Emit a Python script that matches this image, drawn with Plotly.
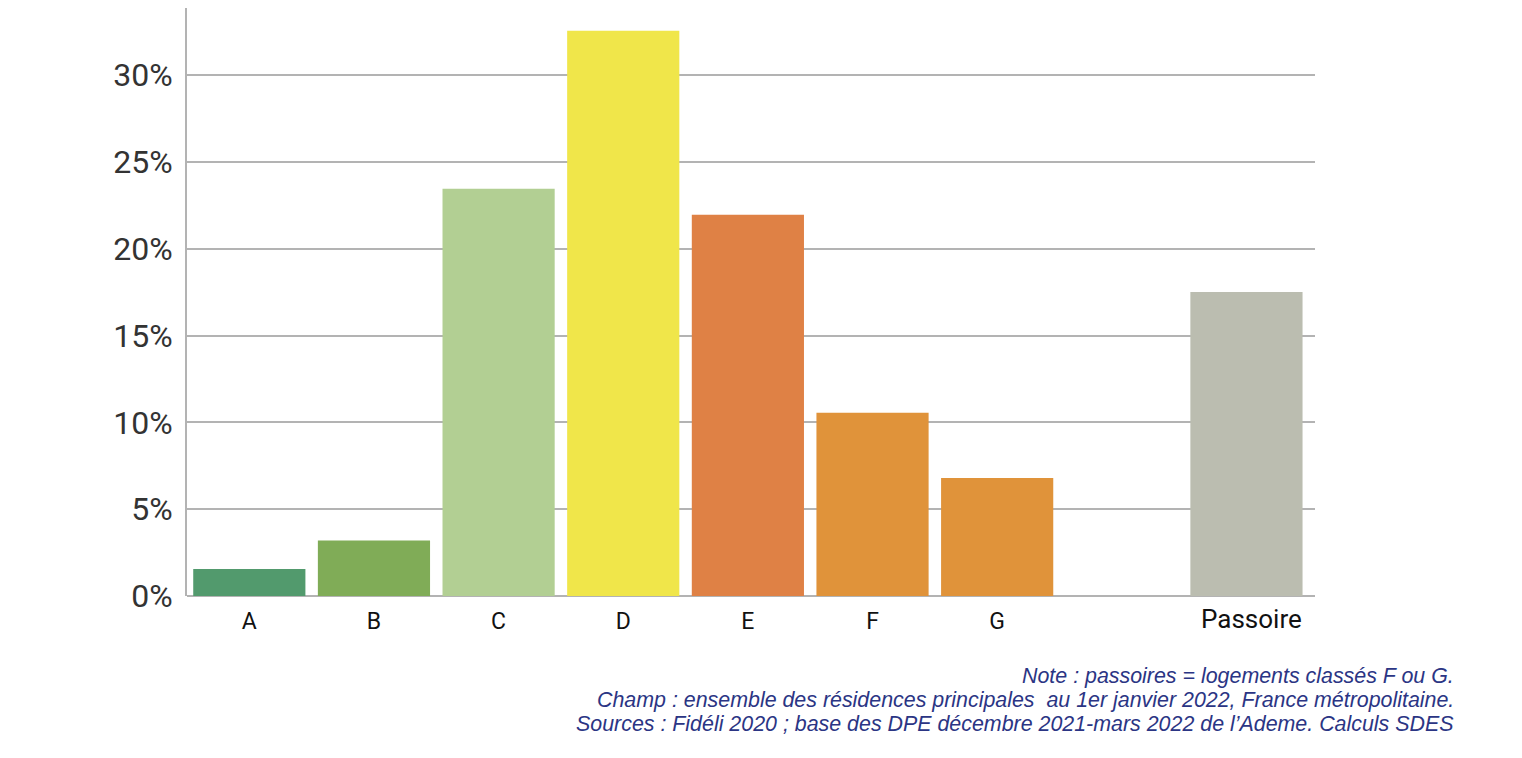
import plotly.graph_objects as go

# Data (share of principal residences by DPE class, %)
classes = ["A", "B", "C", "D", "E", "F", "G", "Passoire"]
shares = [1.55, 3.2, 23.45, 32.55, 21.95, 10.55, 6.8, 17.5]
bar_colors = ["#529a6d", "#80ac57", "#b2cf93", "#f0e64a",
              "#df8145", "#e0933a", "#e0933a", "#bbbdb0"]

# slot order on the axis: a blank slot keeps Passoire apart from G
slots = ["A", "B", "C", "D", "E", "F", "G", " ", "Passoire"]
slot_labels = ["A", "B", "C", "D", "E", "F", "G", "", ""]

y_ticks = [0, 5, 10, 15, 20, 25, 30]
y_labels = ["0%", "5%", "10%", "15%", "20%", "25%", "30%"]

notes = [
    "Note : passoires = logements classés F ou G.",
    "Champ : ensemble des résidences principales  au 1er janvier 2022, France métropolitaine.",
    "Sources : Fidéli 2020 ; base des DPE décembre 2021-mars 2022 de l’Ademe. Calculs SDES",
]

fig = go.Figure()
fig.add_trace(go.Bar(
    x=classes,
    y=shares,
    marker=dict(color=bar_colors, line=dict(width=0)),
    width=0.9,
    showlegend=False,
))

fig.update_layout(
    width=1522,
    height=758,
    margin=dict(l=179, r=215, t=0, b=170),
    paper_bgcolor="white",
    plot_bgcolor="white",
    font=dict(family="Roboto", color="#333333"),
    xaxis=dict(
        type="category",
        categoryorder="array",
        categoryarray=slots,
        tickvals=slots,
        ticktext=slot_labels,
        range=[-0.5, 8.55],
        showgrid=False,
        showline=False,
        ticks="",
        tickfont=dict(family="Roboto", size=23, color="#111111"),
        ticklabelstandoff=9,
    ),
    yaxis=dict(
        range=[0, 33.86],
        tickvals=y_ticks,
        ticktext=y_labels,
        showgrid=True,
        gridcolor="#b3b3b3",
        gridwidth=2,
        zeroline=True,
        zerolinecolor="#b3b3b3",
        zerolinewidth=2,
        showline=True,
        linecolor="#b3b3b3",
        linewidth=2,
        ticks="",
        ticklabelstandoff=6,
        tickfont=dict(family="Roboto", size=32, color="#333333"),
    ),
)

# the aggregate label sits a bit higher and larger than the class letters
fig.add_annotation(
    text="Passoire",
    xref="x", yref="paper",
    x="Passoire", y=-0.039,
    xshift=5,
    xanchor="center", yanchor="middle",
    showarrow=False,
    font=dict(family="Roboto", size=26, color="#111111"),
)

# Notes under the chart, right aligned
for i, line in enumerate(notes):
    fig.add_annotation(
        text=f"<i>{line}</i>",
        xref="paper", yref="paper",
        x=1.125, y=-0.136 - i * 0.0408,
        xanchor="right", yanchor="middle",
        showarrow=False,
        font=dict(family="Liberation Sans", size=21.4, color="#2b3584"),
    )

fig.write_html("out.html")
